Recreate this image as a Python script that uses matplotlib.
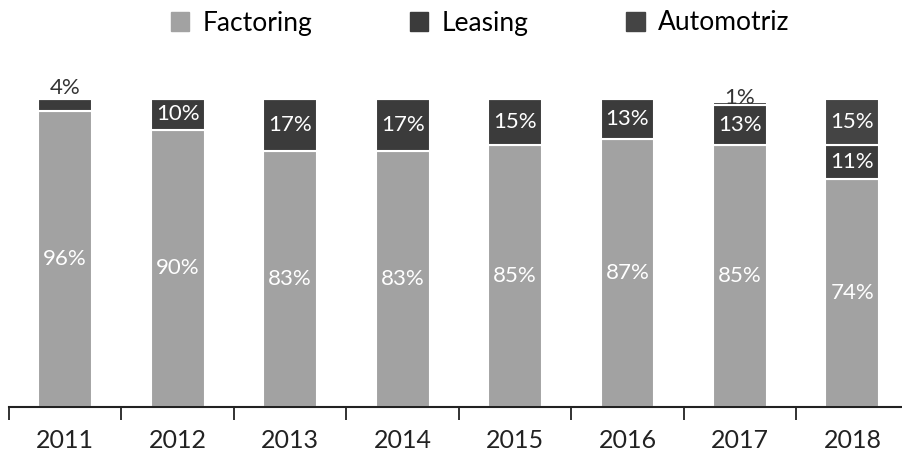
import matplotlib.pyplot as plt
from matplotlib.patches import Patch
import numpy as np

plt.rcParams['font.family'] = ['Lato', 'DejaVu Sans']

years = ['2011', '2012', '2013', '2014', '2015', '2016', '2017', '2018']
factoring = [96, 90, 83, 83, 85, 87, 85, 74]
leasing = [4, 10, 17, 17, 15, 13, 13, 11]
automotriz = [0, 0, 0, 0, 0, 0, 1, 15]

c_fact = '#a2a2a2'
c_leas = '#3b3b3b'
c_auto = '#444444'

fig = plt.figure(figsize=(9.03, 4.51), dpi=100)
ax = fig.add_axes([9 / 903, 1 - 407 / 451, 894 / 903, 308 / 451])

x = np.arange(len(years))
w = 0.48
fact = np.array(factoring)
leas = np.array(leasing)
auto = np.array(automotriz)

ax.bar(x, fact, w, color=c_fact, edgecolor='white', linewidth=1.5)
ax.bar(x, leas, w, bottom=fact, color=c_leas, edgecolor='white', linewidth=1.5)
ax.bar(x, auto, w, bottom=fact + leas, color=c_auto, edgecolor='white', linewidth=1.5)

fs = 16
for i in range(len(years)):
    ax.text(x[i], fact[i] / 2, f'{fact[i]}%', ha='center', va='center',
            color='white', fontsize=fs)
    if leas[i] >= 8:
        ax.text(x[i], fact[i] + leas[i] / 2, f'{leas[i]}%', ha='center',
                va='center', color='white', fontsize=fs)
    else:
        ax.text(x[i], 100.3, f'{leas[i]}%', ha='center', va='bottom',
                color='#333333', fontsize=fs, clip_on=False)
    if auto[i] >= 8:
        ax.text(x[i], fact[i] + leas[i] + auto[i] / 2, f'{auto[i]}%',
                ha='center', va='center', color='white', fontsize=fs)
    elif auto[i] > 0:
        ax.text(x[i], 97.0, f'{auto[i]}%', ha='center', va='bottom',
                color='#333333', fontsize=fs, clip_on=False)

ax.set_xlim(-0.5, 7.45)
ax.set_ylim(0, 100)
ax.set_yticks([])
for s in ['top', 'right', 'left']:
    ax.spines[s].set_visible(False)
ax.spines['bottom'].set_linewidth(1.5)
ax.spines['bottom'].set_color('#222222')

ax.set_xticks(x)
ax.set_xticklabels(years, fontsize=18, color='#222222')
ax.tick_params(axis='x', which='major', length=0, pad=16)
ax.set_xticks(np.arange(-0.5, 7, 1), minor=True)
ax.tick_params(axis='x', which='minor', length=9, width=1.3, color='#222222')

handles = [Patch(color=c_fact), Patch(color=c_leas), Patch(color=c_auto)]
fig.legend(handles, ['Factoring', 'Leasing', 'Automotriz'], ncol=3,
           loc='center', bbox_to_anchor=(480 / 903, 1 - 23 / 451), frameon=False,
           fontsize=19, handlelength=0.7, handleheight=0.7, handletextpad=0.5,
           columnspacing=3.7)

fig.savefig('out.png', dpi=100)
